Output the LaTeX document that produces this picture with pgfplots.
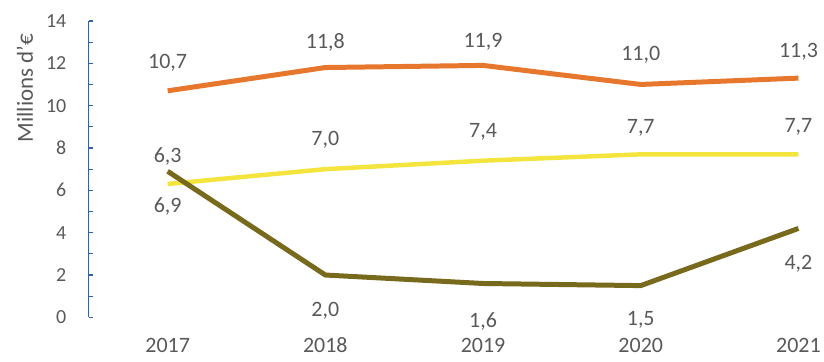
\documentclass[border=0pt]{standalone}
\usepackage{pgfplots}
\pgfplotsset{compat=1.18}
\usepackage{fontspec}
\setmainfont{Carlito}
\definecolor{txt}{HTML}{595959}
\definecolor{corange}{HTML}{E8772E}
\definecolor{cyellow}{HTML}{F4E53E}
\definecolor{colive}{HTML}{786A1C}
\definecolor{cblue}{HTML}{3A5FA8}
\begin{document}
\begin{tikzpicture}[lbl/.style={font=\fontsize{22bp}{26bp}\selectfont, text=txt, anchor=center}]
\begin{axis}[
  scale only axis, width=736bp, height=297bp,
  xmin=2016.5, xmax=2021.158, ymin=0, ymax=14,
  axis y line=left, axis x line=bottom,
  x axis line style={draw=none},
  y axis line style={-, draw=cblue, line width=1.2bp},
  xtick={2017,2018,2019,2020,2021},
  xticklabels={2017,2018,2019,2020,2021},
  xtick style={draw=none},
  ytick={0,2,...,14}, minor ytick={1,3,...,13},
  tick align=inside,
  ytick style={draw=cblue, line width=1.2bp},
  major tick length=4bp, minor tick length=4bp,
  /pgf/number format/assume math mode=true,
  yticklabel style={font=\fontsize{20bp}{24bp}\selectfont, text=txt, xshift=-19bp},
  xticklabel style={font=\fontsize{22bp}{26bp}\selectfont, text=txt, yshift=-17bp},
  ylabel={Millions d'€},
  ylabel style={font=\fontsize{23bp}{27bp}\selectfont, text=txt, at={(axis description cs:-0.087,0.774)}, anchor=center},
  clip=false,
]
\path (axis description cs:-0.1209,-0.148) rectangle (axis description cs:0.9986,1.0707);
\addplot[corange, line width=5bp, line join=round] coordinates {(2017,10.7) (2018,11.8) (2019,11.9) (2020,11.0) (2021,11.3)};
\addplot[cyellow, line width=4.5bp, line join=round] coordinates {(2017,6.3) (2018,7.0) (2019,7.4) (2020,7.7) (2021,7.7)};
\addplot[colive, line width=5bp, line join=round] coordinates {(2017,6.9) (2018,2.0) (2019,1.6) (2020,1.5) (2021,4.2)};
\node[lbl] at (axis cs:2017,12.02) {10,7};
\node[lbl] at (axis cs:2018,13.01) {11,8};
\node[lbl] at (axis cs:2019,13.01) {11,9};
\node[lbl] at (axis cs:2020,12.40) {11,0};
\node[lbl] at (axis cs:2021,12.54) {11,3};
\node[lbl] at (axis cs:2017,7.59) {6,3};
\node[lbl] at (axis cs:2018,8.39) {7,0};
\node[lbl] at (axis cs:2019,8.77) {7,4};
\node[lbl] at (axis cs:2020,8.96) {7,7};
\node[lbl] at (axis cs:2021,9.00) {7,7};
\node[lbl] at (axis cs:2017,5.23) {6,9};
\node[lbl] at (axis cs:2018,0.33) {2,0};
\node[lbl] at (axis cs:2019,-0.19) {1,6};
\node[lbl] at (axis cs:2020,-0.14) {1,5};
\node[lbl] at (axis cs:2021,2.55) {4,2};
\end{axis}
\end{tikzpicture}
\end{document}
